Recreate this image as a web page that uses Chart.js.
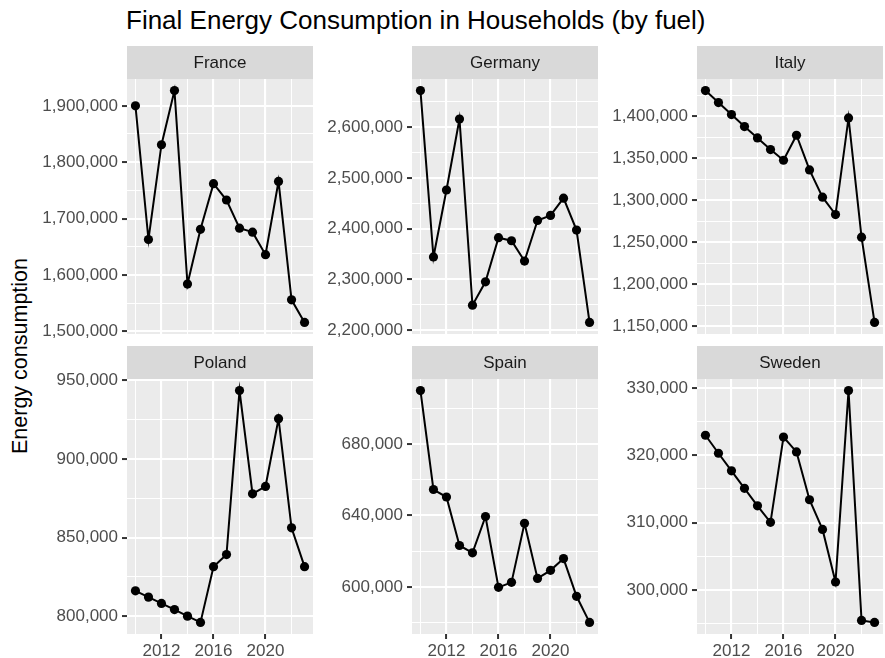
<!DOCTYPE html>
<html>
<head>
<meta charset="utf-8">
<script src="https://cdn.jsdelivr.net/npm/chart.js@4.4.1/dist/chart.umd.min.js"></script>
<style>
  html, body { margin: 0; padding: 0; background: #fff; }
  body { width: 885px; height: 658px; position: relative; overflow: hidden;
         font-family: "Liberation Sans", Arial, sans-serif; }
  canvas { position: absolute; }
  #title { position: absolute; left: 126px; top: 5px; font-size: 26px; color: #000; white-space: nowrap; }
  #ylab { position: absolute; left: 20px; top: 356px; font-size: 21.5px; color: #000; white-space: nowrap;
          transform: translate(-50%, -50%) rotate(-90deg); }
</style>
</head>
<body>
<div id="title">Final Energy Consumption in Households (by fuel)</div>
<div id="ylab">Energy consumption</div>
<script>
// Years on the shared x axis
const years = [2010, 2011, 2012, 2013, 2014, 2015, 2016, 2017, 2018, 2019, 2020, 2021, 2022, 2023];
const yearTicks = [2012, 2016, 2020];

// Household final energy consumption per country
const france  = [1900000, 1663000, 1831000, 1927000, 1584000, 1681000, 1762000, 1733000, 1683000, 1676000, 1636000, 1766000, 1556000, 1516000];
const germany = [2672000, 2344000, 2476000, 2616000, 2249000, 2295000, 2382000, 2376000, 2336000, 2416000, 2426000, 2460000, 2397000, 2215000];
const italy   = [1430600, 1416300, 1402000, 1387700, 1374200, 1360300, 1347600, 1377400, 1336100, 1303600, 1282900, 1398000, 1256000, 1154400];
const poland  = [816100, 812100, 808100, 804200, 800000, 796000, 831500, 839200, 943600, 877900, 882600, 925700, 856200, 831500];
const spain   = [709800, 654500, 650300, 623200, 619100, 639400, 599800, 602600, 635600, 604800, 609300, 615900, 594800, 580200];
const sweden  = [322970, 320300, 317700, 315100, 312500, 310050, 322700, 320500, 313400, 309000, 301200, 329600, 295500, 295200];

// Labelled y ticks for each facet
const franceTicks  = [1500000, 1600000, 1700000, 1800000, 1900000];
const germanyTicks = [2200000, 2300000, 2400000, 2500000, 2600000];
const italyTicks   = [1150000, 1200000, 1250000, 1300000, 1350000, 1400000];
const polandTicks  = [800000, 850000, 900000, 950000];
const spainTicks   = [600000, 640000, 680000];
const swedenTicks  = [300000, 310000, 320000, 330000];

const countries = ['France', 'Germany', 'Italy', 'Poland', 'Spain', 'Sweden'];
const seriesList = [france, germany, italy, poland, spain, sweden];
const tickList = [franceTicks, germanyTicks, italyTicks, polandTicks, spainTicks, swedenTicks];

// Facet grid geometry
const PLOT_LEFT = [127, 412, 697];
const PLOT_W = 186;
const Y_AXIS_W = 110;
const STRIP_H = 33;
const PLOT_H = 255;
const ROW_TOP = [46, 346];
const X_AXIS_H = [0, 25];
const BOTTOM_PAD = [12, 0];
const RIGHT_PAD = 5;

const FONT = '"Liberation Sans", Arial, sans-serif';
Chart.defaults.font.family = FONT;

// ggplot-like 5% expansion of a numeric range
function expand(lo, hi) {
  const d = (hi - lo) * 0.05;
  return [lo - d, hi + d];
}

// Major ticks plus minor gridlines halfway between (and beyond) them
function withMinor(major, lo, hi) {
  const out = major.map(v => ({ value: v, minor: false }));
  const step = major[1] - major[0];
  const cands = [major[0] - step / 2];
  for (let i = 0; i < major.length - 1; i++) cands.push((major[i] + major[i + 1]) / 2);
  cands.push(major[major.length - 1] + step / 2);
  cands.forEach(v => { if (v >= lo && v <= hi) out.push({ value: v, minor: true }); });
  out.sort((a, b) => a.value - b.value);
  return out;
}

const fmt = v => Math.round(v).toLocaleString('en-US');

// Panel background and facet strip
const facetPlugin = {
  id: 'facet',
  beforeDraw(chart, args, opts) {
    const { ctx, chartArea: a } = chart;
    ctx.save();
    ctx.fillStyle = '#EBEBEB';
    ctx.fillRect(a.left, a.top, a.right - a.left, a.bottom - a.top);
    ctx.fillStyle = '#D9D9D9';
    ctx.fillRect(a.left, a.top - STRIP_H, a.right - a.left, STRIP_H);
    ctx.fillStyle = '#1A1A1A';
    ctx.font = '17px ' + FONT;
    ctx.textAlign = 'center';
    ctx.textBaseline = 'middle';
    ctx.fillText(opts.label, (a.left + a.right) / 2, a.top - STRIP_H / 2 + 1);
    ctx.restore();
  }
};

const [xMin, xMax] = expand(years[0], years[years.length - 1]);

countries.forEach((name, i) => {
  const row = Math.floor(i / 3), col = i % 3;
  const values = seriesList[i];
  const [yMin, yMax] = expand(Math.min(...values), Math.max(...values));
  const yTicks = withMinor(tickList[i], yMin, yMax);
  const xTicks = withMinor(yearTicks, xMin, xMax);

  const canvas = document.createElement('canvas');
  const w = Y_AXIS_W + PLOT_W + RIGHT_PAD;
  const h = STRIP_H + PLOT_H + X_AXIS_H[row] + BOTTOM_PAD[row];
  canvas.width = w; canvas.height = h;
  canvas.style.width = w + 'px'; canvas.style.height = h + 'px';
  canvas.style.left = (PLOT_LEFT[col] - Y_AXIS_W) + 'px';
  canvas.style.top = ROW_TOP[row] + 'px';
  document.body.appendChild(canvas);

  const bottomRow = row === 1;

  new Chart(canvas, {
    type: 'line',
    data: {
      datasets: [{
        data: years.map((y, k) => ({ x: y, y: values[k] })),
        borderColor: '#000',
        borderWidth: 2,
        backgroundColor: '#000',
        pointBackgroundColor: '#000',
        pointBorderWidth: 0,
        pointRadius: 4.6,
        tension: 0,
        clip: false
      }]
    },
    options: {
      responsive: false,
      animation: false,
      devicePixelRatio: 1,
      layout: { padding: { top: STRIP_H, right: RIGHT_PAD, bottom: BOTTOM_PAD[row], left: 0 } },
      plugins: {
        legend: { display: false },
        tooltip: { enabled: false },
        facet: { label: name }
      },
      scales: {
        x: {
          type: 'linear',
          min: xMin, max: xMax,
          afterBuildTicks: ax => { ax.ticks = xTicks.map(t => ({ ...t })); },
          afterFit: ax => { ax.height = X_AXIS_H[row]; ax.paddingLeft = 0; ax.paddingRight = 0; },
          border: { display: false },
          grid: {
            color: '#FFFFFF',
            lineWidth: c => (c.tick && c.tick.minor ? 1.05 : 2.1),
            drawTicks: bottomRow,
            tickLength: 5,
            tickWidth: 2,
            tickColor: c => (c.tick && c.tick.minor ? 'rgba(0,0,0,0)' : '#333333')
          },
          ticks: {
            display: bottomRow,
            autoSkip: false,
            maxRotation: 0,
            padding: 2,
            color: '#4D4D4D',
            font: { size: 17 },
            callback: (v, k, ticks) => (ticks[k].minor ? '' : String(v))
          }
        },
        y: {
          type: 'linear',
          min: yMin, max: yMax,
          afterBuildTicks: ax => { ax.ticks = yTicks.map(t => ({ ...t })); },
          afterFit: ax => { ax.width = Y_AXIS_W; ax.paddingTop = 0; ax.paddingBottom = 0; },
          border: { display: false },
          grid: {
            color: '#FFFFFF',
            lineWidth: c => (c.tick && c.tick.minor ? 1.05 : 2.1),
            drawTicks: true,
            tickLength: 5,
            tickWidth: 2,
            tickColor: c => (c.tick && c.tick.minor ? 'rgba(0,0,0,0)' : '#333333')
          },
          ticks: {
            autoSkip: false,
            padding: 4,
            color: '#4D4D4D',
            font: { size: 17 },
            callback: (v, k, ticks) => (ticks[k].minor ? '' : fmt(v))
          }
        }
      }
    },
    plugins: [facetPlugin]
  });
});
</script>
</body>
</html>
